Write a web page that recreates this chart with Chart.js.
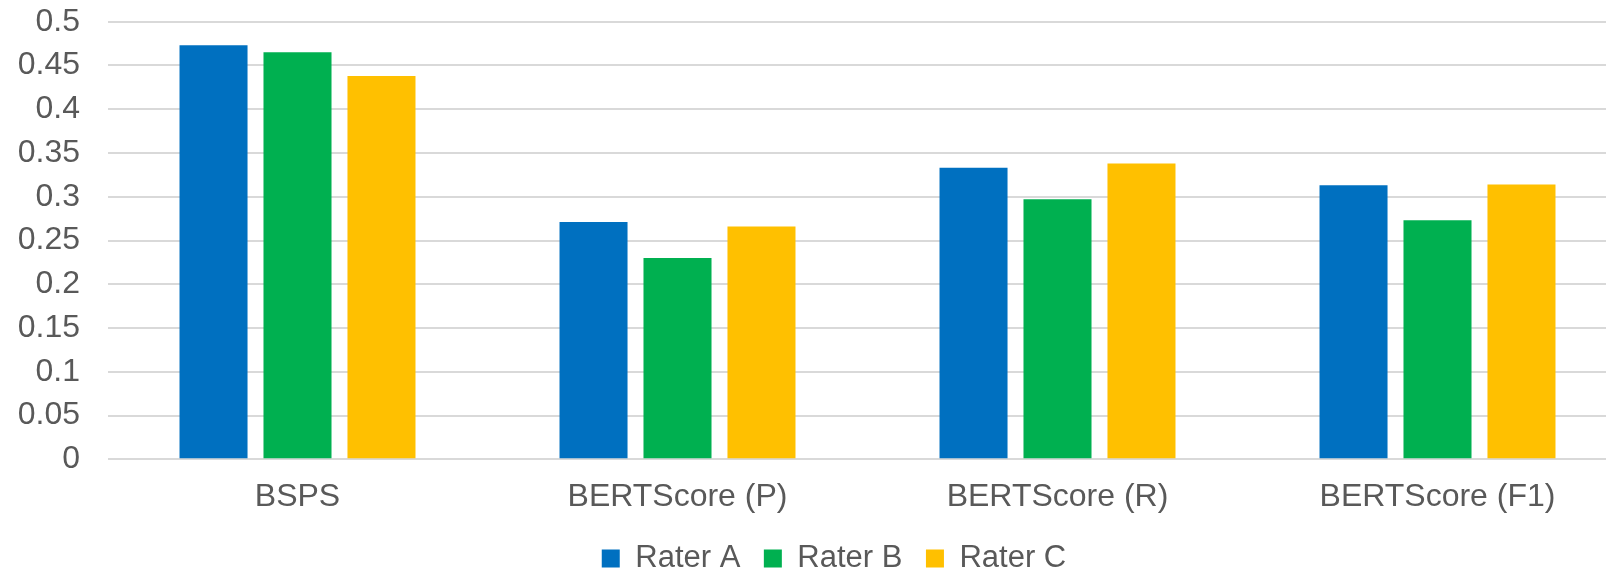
<!DOCTYPE html>
<html>
<head>
<meta charset="utf-8">
<script src="https://cdn.jsdelivr.net/npm/chart.js@4.4.0/dist/chart.umd.min.js"></script>
<style>
html, body { margin: 0; padding: 0; overflow: hidden; background: #ffffff; width: 1606px; height: 570px; }
#wrap { position: absolute; left: 0; top: 0; width: 1660px; height: 584px; }
canvas { display: block; }
</style>
</head>
<body>
<div id="wrap"><canvas id="chart" width="1660" height="584"></canvas></div>
<script>
// ---- data ----
const categories = ['BSPS', 'BERTScore (P)', 'BERTScore (R)', 'BERTScore (F1)'];
const seriesNames = ['Rater A', 'Rater B', 'Rater C'];
const raterA = [0.473, 0.271, 0.333, 0.313];
const raterB = [0.465, 0.230, 0.297, 0.273];
const raterC = [0.438, 0.266, 0.338, 0.314];
const yTickLabels = ['0', '0.05', '0.1', '0.15', '0.2', '0.25', '0.3', '0.35', '0.4', '0.45', '0.5'];

// ---- styles ----
const colors = ['#0070C0', '#00B050', '#FFC000'];
const textColor = '#595959';
const gridColor = '#d9d9d9';
const fontFamily = '"Liberation Sans", Arial, Helvetica, sans-serif';

const seriesValues = [raterA, raterB, raterC];

new Chart(document.getElementById('chart'), {
  type: 'bar',
  data: {
    labels: categories,
    datasets: seriesNames.map((name, i) => ({
      label: name,
      data: seriesValues[i],
      backgroundColor: colors[i],
      borderWidth: 0,
      categoryPercentage: 0.663,
      barPercentage: 0.81
    }))
  },
  options: {
    responsive: false,
    animation: false,
    devicePixelRatio: 1,
    layout: { padding: { left: 8, right: 0, top: 21.7, bottom: 0 } },
    plugins: {
      tooltip: { enabled: false },
      legend: {
        position: 'bottom',
        labels: {
          boxWidth: 18,
          boxHeight: 18,
          padding: 23.5,
          color: textColor,
          font: { family: fontFamily, size: 31 }
        }
      }
    },
    scales: {
      x: {
        grid: { display: false, drawTicks: false },
        border: { display: false },
        ticks: {
          color: textColor,
          font: { family: fontFamily, size: 32 },
          padding: 18.2,
          maxRotation: 0,
          autoSkip: false
        },
        afterFit: (scale) => { scale.height = 60.2; }
      },
      y: {
        min: 0,
        max: 0.5,
        grid: { color: gridColor, lineWidth: 2, drawTicks: false },
        border: { display: false },
        ticks: {
          stepSize: 0.05,
          autoSkip: false,
          color: textColor,
          font: { family: fontFamily, size: 32 },
          padding: 27.5,
          callback: (v, i) => yTickLabels[i]
        },
        afterFit: (scale) => {
          scale.width = 99.5;
          scale.paddingTop = 0;
          scale.paddingBottom = 0;
        }
      },
      yRight: {
        type: 'linear',
        position: 'right',
        display: true,
        grid: { display: false, drawTicks: false },
        border: { display: false },
        ticks: { display: false },
        afterFit: (scale) => {
          scale.width = 32.5;
          scale.paddingTop = 0;
          scale.paddingBottom = 0;
        }
      }
    }
  }
});
</script>
</body>
</html>
